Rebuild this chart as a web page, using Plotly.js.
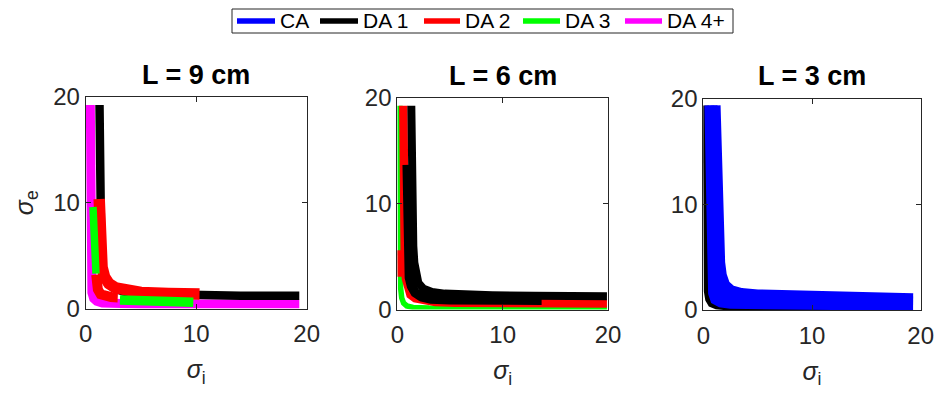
<!DOCTYPE html>
<html>
<head>
<meta charset="utf-8">
<script src="https://cdn.plot.ly/plotly-3.0.1.min.js"></script>
<style>html,body{margin:0;padding:0;background:#fff;}#chart{width:938px;height:396px;}</style>
</head>
<body>
<div id="chart"></div>
<script>
// ---------- data ----------
const seriesNames = ['CA', 'DA 1', 'DA 2', 'DA 3', 'DA 4+'];
const panelTitles = ['L = 9 cm', 'L = 6 cm', 'L = 3 cm'];
const tickVals = [0, 10, 20];
const tickText = ['0', '10', '20'];

// Panel 1: L = 9 cm
const p1_da4_x = [0.42, 0.42, 0.44, 0.48, 0.56, 0.72, 1.0, 1.5, 2.5, 5, 10, 19.33];
const p1_da4_y = [19.24, 10, 5, 2.6, 1.5, 0.95, 0.68, 0.52, 0.45, 0.43, 0.42, 0.42];
const p1_da1_x = [1.25, 1.25, 1.27, 1.32, 1.42, 1.6, 1.95, 2.5, 3.4, 5, 7.5, 10.3, 14, 19.33];
const p1_da1_y = [19.24, 14, 8, 5.5, 4.2, 3.2, 2.45, 1.95, 1.6, 1.4, 1.3, 1.24, 1.21, 1.2];
const p1_da2a_x = [1.22, 1.23, 1.27, 1.35, 1.48, 1.7, 2.1, 2.7, 3.6, 5, 7.5, 10.3];
const p1_da2a_y = [10.35, 8, 6, 4.8, 3.9, 3.0, 2.35, 1.95, 1.68, 1.52, 1.42, 1.37];
const p1_da2b_x = [0.95, 1.0, 1.1, 1.35, 1.75, 2.3, 2.9];
const p1_da2b_y = [3.2, 2.5, 1.8, 1.35, 1.15, 1.08, 1.05];
const p1_da3a_x = [0.66, 0.7, 0.76, 0.84, 0.93];
const p1_da3a_y = [9.6, 8, 6.3, 4.7, 3.3];
const p1_da3b_x = [3.1, 5, 7.5, 9.74];
const p1_da3b_y = [0.8, 0.74, 0.67, 0.6];

// Panel 2: L = 6 cm
const p2_da3_x = [0.25, 0.25, 0.27, 0.32, 0.42, 0.6, 0.9, 1.5, 3, 6, 12, 19.9];
const p2_da3_y = [19.24, 10, 4, 2, 1.1, 0.6, 0.34, 0.2, 0.13, 0.12, 0.11, 0.11];
const p2_da2a_x = [0.57, 0.57, 0.6, 0.65, 0.72, 0.82, 0.98, 1.25, 1.7, 2.5, 3.6, 5.5, 9, 14, 19.9];
const p2_da2a_y = [19.24, 13, 8, 5.5, 4, 2.9, 2.0, 1.4, 1.05, 0.82, 0.7, 0.63, 0.59, 0.57, 0.57];
const p2_da2b_x = [0.25, 0.25, 0.27];
const p2_da2b_y = [5.6, 4.3, 3.1];
const p2_da1a_x = [1.33, 1.36, 1.42, 1.52, 1.62, 1.75, 2.0, 2.5, 3.3, 4.5, 6, 9, 13, 19.9];
const p2_da1a_y = [19.24, 13, 9, 6, 4.4, 3.3, 2.5, 1.95, 1.65, 1.5, 1.42, 1.35, 1.3, 1.26];
const p2_da1b_x = [0.94, 0.95, 1.0, 1.05, 1.15, 1.35, 1.7, 2.3, 3.2, 5, 8, 13.7];
const p2_da1b_y = [13.65, 10, 6, 4, 3, 2.2, 1.6, 1.2, 1.0, 0.92, 0.9, 0.88];

// Panel 3: L = 3 cm
const p3_da1_x = [0.22, 0.22, 0.25, 0.32, 0.45, 0.7, 1.2, 2.5, 6, 16.6];
const p3_da1_y = [19.34, 8, 3.5, 1.8, 1.0, 0.55, 0.35, 0.22, 0.18, 0.18];
const p3_caa_x = [0.56, 0.62, 0.68, 0.72, 0.76, 0.8, 0.9, 1.1, 1.6, 2.5, 4, 7, 12, 19.3];
const p3_caa_y = [19.34, 14, 10, 8.5, 5, 3, 1.6, 1.0, 0.72, 0.58, 0.53, 0.5, 0.48, 0.47];
const p3_cab_x = [0.85, 0.95, 1.05, 1.1, 1.2, 1.35, 1.7, 2.3, 3.5, 6, 10, 19.3];
const p3_cab_y = [19.34, 12, 8.5, 5.5, 3.5, 2.3, 1.6, 1.2, 1.0, 0.95, 0.9, 0.8];
const p3_cac_x = [1.13, 1.2, 1.3, 1.37, 1.45, 1.55, 1.7, 2.0, 2.6, 3.5, 5, 6.6, 10, 14, 19.3];
const p3_cac_y = [19.34, 14, 10, 8.5, 6, 4.5, 3.3, 2.4, 1.85, 1.6, 1.47, 1.43, 1.3, 1.2, 1.11];

// ---------- styles ----------
const colors = {'CA': '#0000ff', 'DA 1': '#000000', 'DA 2': '#ff0000', 'DA 3': '#00ff00', 'DA 4+': '#ff00ff'};

// [x, y, series, line width px, panel] in drawing order
const segs = [
  [p1_da4_x, p1_da4_y, 'DA 4+', 9, 1],
  [p1_da1_x, p1_da1_y, 'DA 1', 8.5, 1],
  [p1_da2a_x, p1_da2a_y, 'DA 2', 11.5, 1],
  [p1_da2b_x, p1_da2b_y, 'DA 2', 10, 1],
  [p1_da3a_x, p1_da3a_y, 'DA 3', 7.5, 1],
  [p1_da3b_x, p1_da3b_y, 'DA 3', 9.5, 1],
  [p2_da3_x, p2_da3_y, 'DA 3', 5.5, 2],
  [p2_da2a_x, p2_da2a_y, 'DA 2', 8.5, 2],
  [p2_da2b_x, p2_da2b_y, 'DA 2', 5.5, 2],
  [p2_da1b_x, p2_da1b_y, 'DA 1', 9.5, 2],
  [p2_da1a_x, p2_da1a_y, 'DA 1', 8, 2],
  [p3_da1_x, p3_da1_y, 'DA 1', 6, 3],
  [p3_caa_x, p3_caa_y, 'CA', 10, 3],
  [p3_cab_x, p3_cab_y, 'CA', 10, 3],
  [p3_cac_x, p3_cac_y, 'CA', 10, 3]
];

const traces = segs.map(s => ({
  type: 'scatter', mode: 'lines', x: s[0], y: s[1],
  xaxis: s[4] === 1 ? 'x' : 'x' + s[4], yaxis: s[4] === 1 ? 'y' : 'y' + s[4],
  line: {color: colors[s[2]], width: s[3]},
  name: s[2], showlegend: false, hoverinfo: 'skip'
}));

const W = 938, H = 396;
const axCol = '#262626';
const FONT = 'Liberation Sans, Arial, sans-serif';
function xax(dom, anchor) {
  return {domain: dom, anchor: anchor, range: [0, 20], tickvals: tickVals, ticktext: tickText,
    ticks: 'inside', ticklen: 5, tickwidth: 1, tickcolor: axCol, showline: true, linecolor: axCol,
    linewidth: 1, mirror: 'ticks', showgrid: false, zeroline: false,
    tickfont: {size: 24, color: axCol, family: FONT}, ticklabelstandoff: 4,
    title: {text: '<i>σ</i><sub>i</sub>', font: {size: 25, color: axCol, family: FONT}, standoff: 14}};
}
function yax(dom, anchor, showTitle) {
  const a = {domain: dom, range: [0, 20], tickvals: tickVals, ticktext: tickText, anchor: anchor,
    ticks: 'inside', ticklen: 5, tickwidth: 1, tickcolor: axCol, showline: true, linecolor: axCol,
    linewidth: 1, mirror: 'ticks', showgrid: false, zeroline: false,
    tickfont: {size: 24, color: axCol, family: FONT}};
  if (showTitle) a.title = {text: '<i>σ</i><sub>e</sub>', font: {size: 25, color: axCol, family: FONT}, standoff: 12};
  return a;
}
const px = [[85.7, 306.7], [397.3, 608], [703.3, 920.7]];
const py = [[97, 308.5], [97.7, 309.5], [98.5, 310]];
const xd = px.map(p => [p[0] / W, p[1] / W]);
const yd = py.map(p => [1 - p[1] / H, 1 - p[0] / H]);

const annotations = panelTitles.map((t, i) => ({
  text: '<b>' + t + '</b>', xref: 'paper', yref: 'paper',
  x: (xd[i][0] + xd[i][1]) / 2, y: yd[i][1], xanchor: 'center', yanchor: 'bottom',
  yshift: 5, showarrow: false, font: {size: 27, color: '#000', family: FONT}
}));

// legend drawn as a box with line samples and text labels
const legBox = [232, 733, 9, 33];
const legLineX = [[237, 275], [320, 358], [424, 460], [523, 560], [625, 662]];
const legTextX = [279, 362, 464, 564, 666];
const legY = 21;
const shapes = [{type: 'rect', xref: 'paper', yref: 'paper',
  x0: legBox[0] / W, x1: legBox[1] / W, y0: 1 - legBox[3] / H, y1: 1 - legBox[2] / H,
  line: {color: axCol, width: 1}, fillcolor: '#fff', layer: 'above'}];
seriesNames.forEach((n, i) => {
  shapes.push({type: 'line', xref: 'paper', yref: 'paper',
    x0: legLineX[i][0] / W, x1: legLineX[i][1] / W, y0: 1 - legY / H, y1: 1 - legY / H,
    line: {color: colors[n], width: 5.5}, layer: 'above'});
  annotations.push({text: n, xref: 'paper', yref: 'paper', x: legTextX[i] / W, y: 1 - legY / H,
    xanchor: 'left', yanchor: 'middle', showarrow: false, borderpad: 0,
    font: {size: 21, color: '#000', family: FONT}});
});

const layout = {
  width: W, height: H, margin: {l: 0, r: 0, t: 0, b: 0},
  paper_bgcolor: '#fff', plot_bgcolor: '#fff',
  font: {family: FONT, color: axCol},
  xaxis: xax(xd[0], 'y'), yaxis: yax(yd[0], 'x', true),
  xaxis2: xax(xd[1], 'y2'), yaxis2: yax(yd[1], 'x2', false),
  xaxis3: xax(xd[2], 'y3'), yaxis3: yax(yd[2], 'x3', false),
  showlegend: false,
  shapes: shapes,
  annotations: annotations
};

Plotly.newPlot('chart', traces, layout, {staticPlot: true, displayModeBar: false});
</script>
</body>
</html>
